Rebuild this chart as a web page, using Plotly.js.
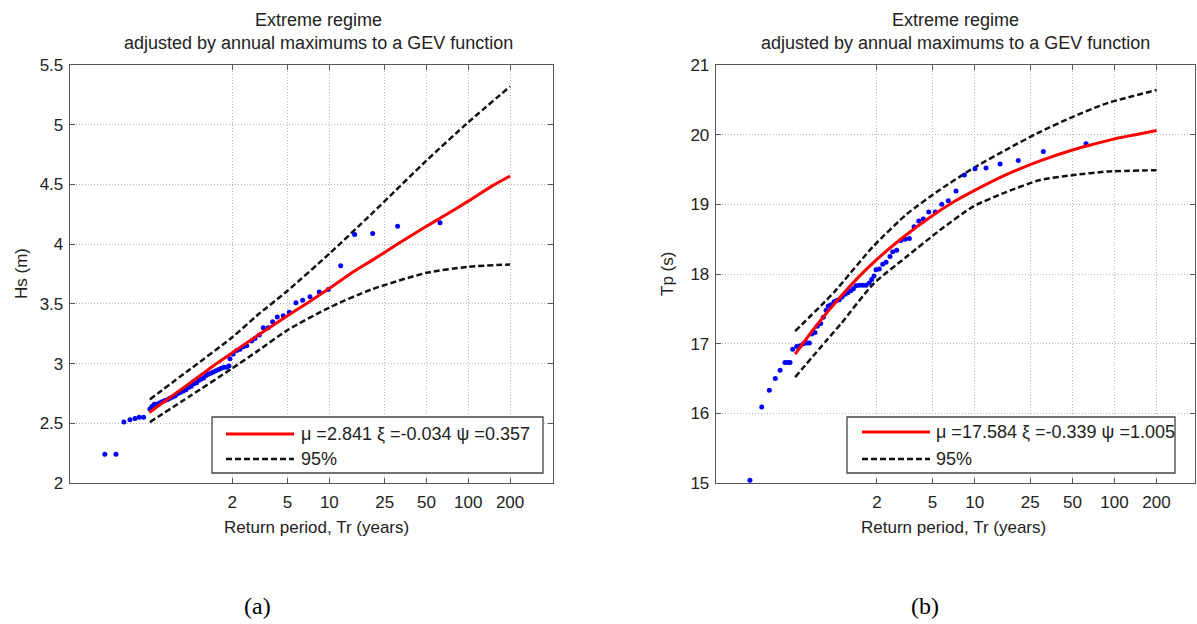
<!DOCTYPE html>
<html>
<head>
<meta charset="utf-8">
<script src="https://cdn.plot.ly/plotly-3.0.1.min.js"></script>
<style>
  html, body { margin: 0; padding: 0; background: #fff; }
  #chart { width: 1197px; height: 624px; }
</style>
</head>
<body>
<div id="chart"></div>
<script>
// ---------------- data ----------------
// Panel (a): Hs
const obsTrA = [0.242, 0.291, 0.332, 0.367, 0.399, 0.428, 0.460,
  0.511, 0.528, 0.549, 0.571, 0.597, 0.624, 0.655, 0.685, 0.712, 0.744,
  0.778, 0.813, 0.850, 0.888, 0.928, 0.970, 1.014, 1.060, 1.108, 1.152,
  1.197, 1.244, 1.293, 1.344, 1.398, 1.460, 1.526, 1.596, 1.667, 1.743,
  1.822, 1.893,
  1.925, 2.033, 2.151, 2.272, 2.400, 2.539, 2.759, 2.913, 3.129, 3.344,
  3.633, 3.907, 4.217, 4.658, 5.146, 5.749, 6.425, 7.251, 8.458, 9.820,
  12.06, 15.2, 20.5, 31.0, 62.6];
const obsHsA = [2.24, 2.24, 2.51, 2.53, 2.54, 2.55, 2.55,
  2.62, 2.64, 2.66, 2.66, 2.67, 2.68, 2.69, 2.70, 2.71, 2.72,
  2.73, 2.75, 2.76, 2.77, 2.78, 2.80, 2.81, 2.83, 2.84, 2.86,
  2.87, 2.88, 2.90, 2.91, 2.92, 2.93, 2.94, 2.95, 2.96, 2.97,
  2.97, 2.98,
  3.04, 3.08, 3.11, 3.12, 3.14, 3.15, 3.19, 3.21, 3.24, 3.30,
  3.30, 3.35, 3.39, 3.40, 3.43, 3.51, 3.53, 3.56, 3.60, 3.62,
  3.82, 4.08, 4.09, 4.15, 4.18];
const fitTrA = [0.505, 0.7, 1, 1.5, 2, 3, 5, 7, 10, 15, 20, 30, 50, 70, 100, 150, 200];
const fitHsA = [2.59, 2.71, 2.84, 2.99, 3.09, 3.23, 3.40, 3.51, 3.63, 3.77, 3.86, 3.99, 4.15, 4.25, 4.36, 4.49, 4.57];
const ciTrA = [0.51, 1, 2, 3, 5, 10, 20, 50, 100, 200];
const upHsA = [2.70, 2.955, 3.22, 3.40, 3.61, 3.92, 4.25, 4.70, 5.02, 5.32];
const loHsA = [2.51, 2.73, 2.96, 3.10, 3.28, 3.47, 3.62, 3.76, 3.81, 3.83];

// Panel (b): Tp
const obsTrB = [0.247, 0.300, 0.340, 0.375, 0.406, 0.440, 0.460, 0.478, 0.4995, 0.534,
  0.564, 0.595, 0.630, 0.657, 0.683, 0.721, 0.749, 0.792, 0.827, 0.865,
  0.898, 0.939, 0.987, 1.031, 1.076, 1.126, 1.183, 1.236, 1.299, 1.356,
  1.418, 1.497, 1.583, 1.671, 1.764, 1.835, 1.906,
  1.971, 2.080, 2.200, 2.323, 2.481, 2.594, 2.771, 2.960, 3.177, 3.411,
  3.685, 3.981, 4.295, 4.693, 5.233, 5.815, 6.482, 7.360, 8.438, 10.06,
  12.06, 15.2, 20.5, 31.0, 62.6];
const obsTpB = [15.04, 16.09, 16.33, 16.50, 16.62, 16.73, 16.73, 16.73, 16.92, 16.96,
  16.97, 17.00, 17.01, 17.01, 17.14, 17.16, 17.25, 17.29, 17.38, 17.48,
  17.54, 17.56, 17.60, 17.62, 17.63, 17.67, 17.71, 17.73, 17.76, 17.79,
  17.83, 17.84, 17.84, 17.84, 17.87, 17.92, 17.97,
  18.06, 18.07, 18.14, 18.17, 18.25, 18.32, 18.34, 18.48, 18.50, 18.51,
  18.68, 18.76, 18.79, 18.89, 18.89, 19.00, 19.05, 19.19, 19.42, 19.51,
  19.52, 19.58, 19.63, 19.76, 19.87];
const fitTrB = [0.52, 0.7, 1, 1.5, 2, 3, 5, 7, 10, 15, 20, 30, 50, 70, 100, 150, 200];
const fitTpB = [16.85, 17.20, 17.58, 17.97, 18.21, 18.51, 18.84, 19.03, 19.20, 19.38, 19.49, 19.63, 19.78, 19.86, 19.94, 20.01, 20.06];
const upTrB = [0.52, 0.8, 1.0, 1.89, 3.27, 5.65, 9.79, 17, 29.4, 50.8, 88, 200];
const upTpB = [17.18, 17.55, 17.75, 18.40, 18.86, 19.21, 19.52, 19.79, 20.04, 20.26, 20.45, 20.64];
const loTrB = [0.52, 0.875, 1.1, 1.89, 3.27, 5.65, 9.79, 17, 29.4, 50.8, 88, 200];
const loTpB = [16.52, 17.05, 17.28, 17.86, 18.25, 18.63, 18.97, 19.18, 19.35, 19.42, 19.47, 19.49];

// tick labels and texts
const xTickVals = [2, 5, 10, 25, 50, 100, 200];
const xTickText = ['2', '5', '10', '25', '50', '100', '200'];
const legendFitA = 'μ =2.841 ξ =-0.034 ψ =0.357';
const legendFitB = 'μ =17.584 ξ =-0.339 ψ =1.005';
const legendCI = '95%';
const titleText = 'Extreme regime<br>adjusted by annual maximums to a GEV function';
const xTitle = 'Return period, Tr (years)';
const yTitleA = 'Hs (m)';
const yTitleB = 'Tp (s)';

// ---------------- layout helpers ----------------
const W = 1197, H = 624;
const fx = p => p / W;
const fy = p => 1 - p / H;
const FONT = 'Liberation Sans, Arial, Helvetica, sans-serif';
const TXT = '#222222';
const FRAME = '#555555';
const TICKSIZE = 17;

function axisBase() {
  return {
    showline: true, linecolor: FRAME, linewidth: 1.3, mirror: 'ticks',
    ticks: 'inside', ticklen: 5, tickcolor: FRAME, tickwidth: 1,
    showgrid: true, gridcolor: '#b5b5b5', gridwidth: 1, griddash: '1px,2px',
    zeroline: false, tickfont: {family: FONT, size: TICKSIZE, color: TXT},
    fixedrange: true
  };
}

const RED = '#ff0000';
const dashStyle = '6px,3px';
const dashLine = {color: '#111', width: 2.5, dash: dashStyle, shape: 'spline', smoothing: 0.6};
const redLine = {color: RED, width: 3, shape: 'spline', smoothing: 0.6};
const dotMarker = {color: '#0000ff', size: 5};

const traces = [
  // panel a
  {x: ciTrA, y: upHsA, xaxis: 'x', yaxis: 'y', mode: 'lines', type: 'scatter', line: dashLine, name: legendCI},
  {x: ciTrA, y: loHsA, xaxis: 'x', yaxis: 'y', mode: 'lines', type: 'scatter', line: dashLine, name: legendCI},
  {x: obsTrA, y: obsHsA, xaxis: 'x', yaxis: 'y', mode: 'markers', type: 'scatter', marker: dotMarker, name: 'Hs data'},
  {x: fitTrA, y: fitHsA, xaxis: 'x', yaxis: 'y', mode: 'lines', type: 'scatter', line: redLine, name: legendFitA},
  // panel b
  {x: upTrB, y: upTpB, xaxis: 'x2', yaxis: 'y2', mode: 'lines', type: 'scatter', line: dashLine, name: legendCI},
  {x: loTrB, y: loTpB, xaxis: 'x2', yaxis: 'y2', mode: 'lines', type: 'scatter', line: dashLine, name: legendCI},
  {x: obsTrB, y: obsTpB, xaxis: 'x2', yaxis: 'y2', mode: 'markers', type: 'scatter', marker: dotMarker, name: 'Tp data'},
  {x: fitTrB, y: fitTpB, xaxis: 'x2', yaxis: 'y2', mode: 'lines', type: 'scatter', line: redLine, name: legendFitB}
];

const xA = Object.assign(axisBase(), {
  type: 'log', domain: [fx(70), fx(553)], range: [-0.867, 2.61], anchor: 'y',
  tickmode: 'array', tickvals: xTickVals, ticktext: xTickText, ticklabelstandoff: 3
});
const yA = Object.assign(axisBase(), {
  domain: [fy(483), fy(65)], range: [2, 5.5], dtick: 0.5, tick0: 2, anchor: 'x',
  ticklabelstandoff: 2
});
const xB = Object.assign(axisBase(), {
  type: 'log', domain: [fx(716), fx(1195)], range: [-0.85, 2.576], anchor: 'y2',
  tickmode: 'array', tickvals: xTickVals, ticktext: xTickText, ticklabelstandoff: 3
});
const yB = Object.assign(axisBase(), {
  domain: [fy(483), fy(65)], range: [15, 21], dtick: 1, anchor: 'x2',
  ticklabelstandoff: 2
});

function legendShapes(x0, x1, y0, y1, s0, s1, yr, yd) {
  return [
    {type: 'rect', xref: 'paper', yref: 'paper', x0: fx(x0), x1: fx(x1), y0: fy(y1), y1: fy(y0),
     line: {color: '#444', width: 1.3}, fillcolor: '#ffffff', layer: 'above'},
    {type: 'line', xref: 'paper', yref: 'paper', x0: fx(s0), x1: fx(s1), y0: fy(yr), y1: fy(yr),
     line: {color: RED, width: 3}, layer: 'above'},
    {type: 'line', xref: 'paper', yref: 'paper', x0: fx(s0), x1: fx(s1), y0: fy(yd), y1: fy(yd),
     line: {color: '#111', width: 2.5, dash: dashStyle}, layer: 'above'}
  ];
}

function ann(text, x, y, opts) {
  return Object.assign({text: text, xref: 'paper', yref: 'paper', x: fx(x), y: fy(y),
    showarrow: false, xanchor: 'left', yanchor: 'middle',
    font: {family: FONT, size: 18, color: TXT}}, opts || {});
}
const axisTitleFont = {family: FONT, size: 17, color: TXT};
const serif = {family: 'Liberation Serif, Times New Roman, serif', size: 24, color: '#000'};

const layout = {
  width: W, height: H,
  margin: {l: 0, r: 0, t: 0, b: 0},
  paper_bgcolor: '#ffffff', plot_bgcolor: '#ffffff',
  showlegend: false,
  font: {family: FONT, color: TXT},
  xaxis: xA, yaxis: yA, xaxis2: xB, yaxis2: yB,
  shapes: [].concat(
    legendShapes(212, 543, 417, 473, 226, 294, 434, 459),
    legendShapes(847, 1175, 417, 473, 862, 930, 432, 459)
  ),
  annotations: [
    ann(titleText, 318, 8, {xanchor: 'center', yanchor: 'top', align: 'center'}),
    ann(titleText, 955, 8, {xanchor: 'center', yanchor: 'top', align: 'center'}),
    ann(xTitle, 316, 527, {xanchor: 'center', font: axisTitleFont}),
    ann(xTitle, 953, 527, {xanchor: 'center', font: axisTitleFont}),
    ann(yTitleA, 21, 274, {xanchor: 'center', textangle: -90, font: axisTitleFont}),
    ann(yTitleB, 667, 274, {xanchor: 'center', textangle: -90, font: axisTitleFont}),
    ann(legendFitA, 299, 434),
    ann(legendCI, 299, 459),
    ann(legendFitB, 934, 432),
    ann(legendCI, 934, 459),
    ann('(a)', 257, 606, {xanchor: 'center', font: serif}),
    ann('(b)', 925, 606, {xanchor: 'center', font: serif})
  ]
};

Plotly.newPlot('chart', traces, layout, {staticPlot: true, displayModeBar: false});
</script>
</body>
</html>
